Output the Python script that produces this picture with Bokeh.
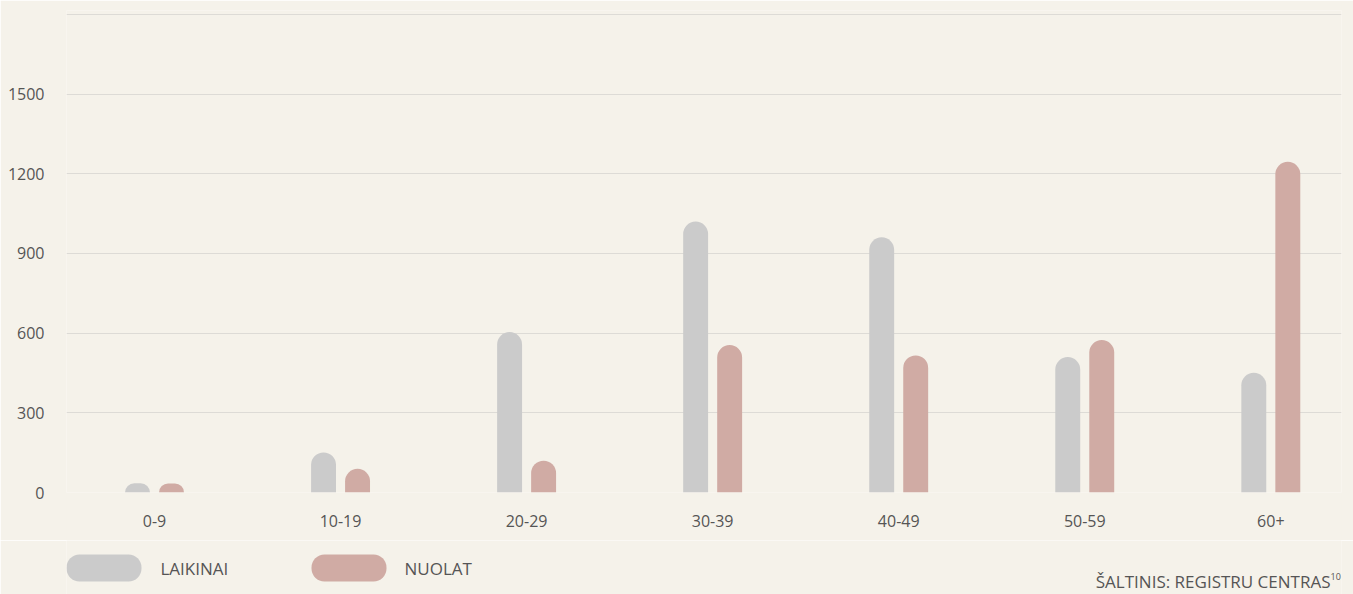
from bokeh.plotting import figure
from bokeh.models import ColumnDataSource, Range1d, FixedTicker
from bokeh.layouts import column
from bokeh.core.properties import value
from bokeh.embed import file_html
from bokeh.resources import INLINE

categories = ["0-9", "10-19", "20-29", "30-39", "40-49", "50-59", "60+"]
laikinai = [35, 151, 604, 1020, 961, 510, 451]
nuolat = [34, 89, 120, 555, 516, 574, 1245]
y_ticks = [0, 300, 600, 900, 1200, 1500, 1800]
series_names = ["LAIKINAI", "NUOLAT"]
source_text = "ŠALTINIS: REGISTRU CENTRAS"
source_note = "10"

BG = "#f5f2ea"
GREY = "#cbcbcb"
PINK = "#d0aba4"
TEXT = "#555555"
FONT = "Open Sans"

idx = list(range(len(categories)))
src = ColumnDataSource(dict(
    xl=[i - 0.0914 for i in idx],
    xn=[i + 0.0914 for i in idx],
    laikinai=laikinai,
    nuolat=nuolat,
))

p = figure(width=1353, height=540, output_backend="svg", toolbar_location=None,
           x_range=Range1d(-0.473, 6.38), y_range=Range1d(0, 1815),
           min_border_left=66, min_border_right=12, min_border_top=10, min_border_bottom=48)
p.background_fill_color = BG
p.border_fill_color = BG
p.outline_line_color = None

p.vbar(x="xl", top="laikinai", bottom=0, width=0.134, source=src,
       fill_color=GREY, line_color=None, border_radius=(13, 13, 0, 0))
p.vbar(x="xn", top="nuolat", bottom=0, width=0.134, source=src,
       fill_color=PINK, line_color=None, border_radius=(13, 13, 0, 0))

p.xgrid.grid_line_color = None
p.ygrid.grid_line_color = "#dddbd6"
p.ygrid.grid_line_width = 1
p.ygrid.ticker = FixedTicker(ticks=y_ticks)

p.yaxis.ticker = FixedTicker(ticks=y_ticks)
p.yaxis.major_label_overrides = {1800: ""}
p.xaxis.ticker = FixedTicker(ticks=idx)
p.xaxis.major_label_overrides = {i: c for i, c in zip(idx, categories)}
for ax in (p.xaxis[0], p.yaxis[0]):
    ax.axis_line_color = None
    ax.major_tick_line_color = None
    ax.minor_tick_line_color = None
    ax.major_tick_out = 0
    ax.major_tick_in = 0
    ax.minor_tick_out = 0
    ax.major_label_text_font = FONT
    ax.major_label_text_font_size = "16px"
    ax.major_label_text_color = TEXT
p.yaxis.major_label_standoff = 22
p.xaxis.major_label_standoff = 22

# legend + source strip (page-pixel coordinates, y downward; frame aligns with chart frame 66..1341)
q = figure(width=1353, height=54, output_backend="svg", toolbar_location=None,
           x_range=Range1d(66, 1341), y_range=Range1d(54, 0),
           min_border=0)
q.background_fill_color = BG
q.border_fill_color = BG
q.outline_line_color = None
q.axis.visible = False
q.grid.visible = False

leg = ColumnDataSource(dict(
    left=[66, 311], right=[141, 386], top=[14, 14], bottom=[41, 41],
    color=[GREY, PINK], tx=[160, 404], ty=[28, 28], name=series_names,
))
q.quad(left="left", right="right", top="top", bottom="bottom", fill_color="color",
       line_color=None, source=leg, border_radius=13)
q.text(x="tx", y="ty", text="name", source=leg, text_font=value(FONT),
       text_font_size="17px", text_color=TEXT, text_baseline="middle")
q.text(x=[1330], y=[41], text=[source_text], text_font=value(FONT),
       text_font_size="17px", text_color=TEXT, text_align="right",
       text_baseline="middle")
q.text(x=[1330], y=[36], text=[source_note], text_font=value(FONT),
       text_font_size="9px", text_color=TEXT, text_align="left",
       text_baseline="middle")

open("out.html", "w").write(file_html(column(p, q, spacing=0), INLINE))
